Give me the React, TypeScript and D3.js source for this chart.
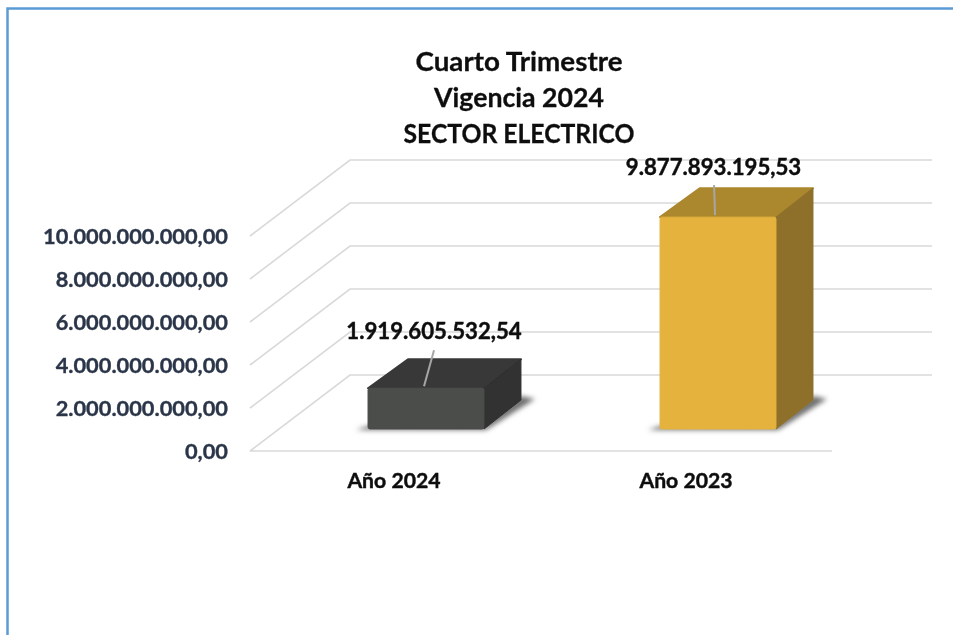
import React from "react";
import * as d3 from "d3";

const categories = ["Año 2024", "Año 2023"];
const values = [1919605532.54, 9877893195.53];
const valueLabels = ["1.919.605.532,54", "9.877.893.195,53"];
const tickValues = [0, 2e9, 4e9, 6e9, 8e9, 10e9];
const tickLabels = ["0,00", "2.000.000.000,00", "4.000.000.000,00", "6.000.000.000,00", "8.000.000.000,00", "10.000.000.000,00"];
const titleLines = ["Cuarto Trimestre", "Vigencia 2024", "SECTOR ELECTRICO"];
const titleLengths = [207, 170, 231];
const frontColors = ["#4b4d4c", "#e4b23e"];
const topColors = ["#383838", "#ab882f"];
const sideColors = ["#303030", "#8f7029"];

const FONT = "Lato, Carlito, Calibri, sans-serif";

export default function App() {
  const y = d3.scaleLinear().domain([0, 10e9]).range([451, 236]);
  // bars stand inset from the front edge of the floor, so the band range is shifted by that depth
  const x = d3.scaleBand().domain(categories).range([281, 863]).paddingInner(0.603).paddingOuter(0.298);
  const wallDx = 100, wallDy = -76;
  const barBaseY = 429 - 451;
  const depthDx = 37, depthDy = -29;
  const poly = (p: number[][]) => p.map((q) => q.join(",")).join(" ");

  return (
    <svg width={953} height={635} viewBox="0 0 953 635" style={{ position: "absolute", left: 0, top: 0, background: "#fff" }} fontFamily={FONT}>
      <defs>
        <filter id="soft" x="-30%" y="-30%" width="160%" height="160%"><feGaussianBlur stdDeviation="0.45" /></filter>
        <filter id="shadow" x="-30%" y="-50%" width="160%" height="200%"><feGaussianBlur stdDeviation="2.5" /></filter>
        <filter id="textsoft" x="-5%" y="-20%" width="110%" height="140%"><feGaussianBlur stdDeviation="0.3" /></filter>
      </defs>
      <path d="M7.5,635 V8.5 H953" fill="none" stroke="#5b9bd5" strokeWidth={2.5} />

      <g stroke="#d9d9d9" strokeWidth={1.6} fill="none">
        {tickValues.map((t) => (
          <path key={t} d={`M${250},${y(t)} L${250 + wallDx},${y(t) + wallDy} H${832 + wallDx}`} />
        ))}
        <line x1={250} x2={832} y1={y(0)} y2={y(0)} />
      </g>

      {categories.map((c, i) => {
        const x0 = x(c)!;
        const x1 = x0 + x.bandwidth();
        const bottom = y(0) + barBaseY;
        const top = y(values[i]) + barBaseY + 0.5;
        const lx = i === 0 ? x0 + 56 : x0 + 55;
        return (
          <g key={c}>
            <polygon points={poly([[x0 - 12, bottom + 1], [x1 + 2, bottom + 1], [x1 + depthDx + 14, bottom + depthDy - 1], [x1 + depthDx, bottom + depthDy - 4], [x1, bottom - 4], [x0, bottom - 3]])} fill="#6e6e6e" filter="url(#shadow)" />
            <g filter="url(#soft)">
              <polygon points={poly([[x0, top], [x1, top], [x1 + depthDx, top + depthDy], [x0 + depthDx + 3, top + depthDy]])} fill={topColors[i]} stroke={topColors[i]} strokeLinejoin="round" strokeWidth={2} />
              <polygon points={poly([[x1, top], [x1 + depthDx, top + depthDy], [x1 + depthDx, bottom + depthDy], [x1, bottom]])} fill={sideColors[i]} stroke={sideColors[i]} strokeLinejoin="round" strokeWidth={1} />
              <rect x={x0} y={top} width={x1 - x0} height={bottom - top} fill={frontColors[i]} stroke={frontColors[i]} strokeWidth={1} rx={2} />
            </g>
            <line x1={lx} y1={top - 2} x2={i === 0 ? lx + 10 : lx - 1} y2={top - (i === 0 ? 38 : 32)} stroke="#a6a6a6" strokeWidth={2} />
            <g filter="url(#textsoft)" stroke="#111" strokeWidth={0.45}>
              <text x={i === 0 ? 434 : 713.5} y={i === 0 ? 339 : 175} textAnchor="middle" fontSize={22.2} fontWeight={700} fill="#111">{valueLabels[i]}</text>
              <text x={x0 + x.bandwidth() / 2 - 32} y={488} textAnchor="middle" fontSize={21.2} fontWeight={700} fill="#111">{c}</text>
            </g>
          </g>
        );
      })}

      <g filter="url(#textsoft)">
        {tickValues.map((t, i) => (
          <text key={t} x={228} y={y(t) + 8} textAnchor="end" fontSize={21.8} fontWeight={700} fill="#2b3648" stroke="#2b3648" strokeWidth={0.35}>{tickLabels[i]}</text>
        ))}
        {titleLines.map((s, i) => (
          <text key={s} x={519} y={71 + i * 36} textAnchor="middle" fontSize={26.5} fontWeight={700} fill="#111" stroke="#111" strokeWidth={0.3} textLength={titleLengths[i]} lengthAdjust="spacingAndGlyphs">{s}</text>
        ))}
      </g>
    </svg>
  );
}
